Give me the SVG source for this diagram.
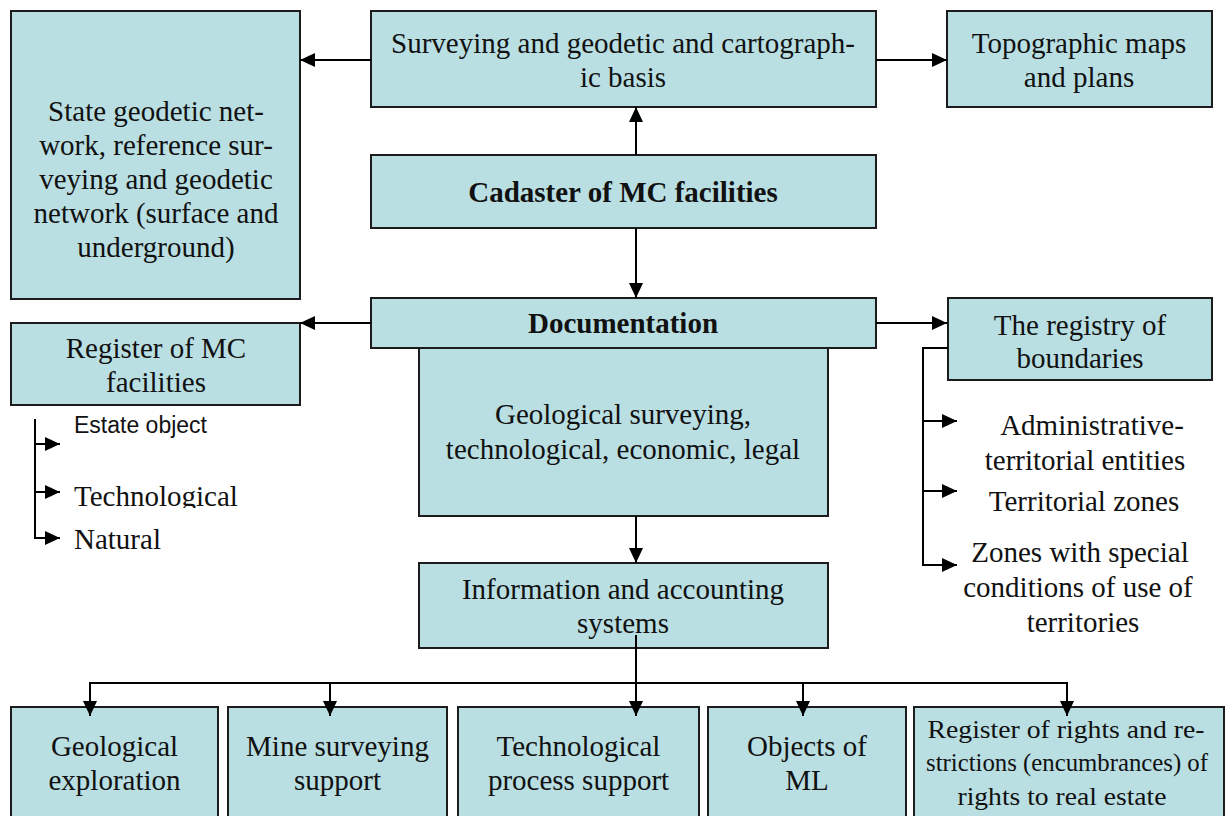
<svg xmlns="http://www.w3.org/2000/svg" width="1230" height="816" viewBox="0 0 1230 816">
<style>
.box{fill:#B9DFE3;stroke:#1c1c1c;stroke-width:2}
.t{font-family:"Liberation Serif","Times New Roman",serif;font-size:29px;fill:#111;text-anchor:middle}
.b{font-weight:bold}
.n{font-size:26px}
.l{font-family:"Liberation Serif","Times New Roman",serif;font-size:29px;fill:#111}
.s{font-family:"Liberation Sans",Arial,sans-serif;font-size:23px;fill:#111}
.c{fill:none;stroke:#000;stroke-width:2}
.a{marker-end:url(#arr)}
</style>
<defs>
<marker id="arr" markerUnits="userSpaceOnUse" markerWidth="16" markerHeight="14" refX="15" refY="7" orient="auto">
<path d="M0,0 L15,7 L0,14 z" fill="#000"/>
</marker>
<clipPath id="clipTech"><rect x="60" y="470" width="250" height="38"/></clipPath>
</defs>
<rect width="1230" height="816" fill="#fff"/>

<g id="state-network">
<rect class="box" x="11" y="11" width="289" height="288"/>
<text class="t" x="156" y="121">State geodetic net-</text>
<text class="t" x="156" y="155">work, reference sur-</text>
<text class="t" x="156" y="189">veying and geodetic</text>
<text class="t" x="156" y="223">network (surface and</text>
<text class="t" x="156" y="257">underground)</text>
</g>

<g id="surveying-basis">
<rect class="box" x="371" y="11" width="505" height="96"/>
<text class="t" x="623" y="53">Surveying and geodetic and cartograph-</text>
<text class="t" x="623" y="87">ic basis</text>
</g>

<g id="topographic-maps">
<rect class="box" x="947" y="11" width="265" height="96"/>
<text class="t" x="1079" y="53">Topographic maps</text>
<text class="t" x="1079" y="87">and plans</text>
</g>

<g id="cadaster">
<rect class="box" x="371" y="155" width="505" height="73"/>
<text class="t b" x="623" y="202">Cadaster of MC facilities</text>
</g>

<g id="documentation">
<rect class="box" x="371" y="298" width="505" height="50"/>
<text class="t b" x="623" y="333">Documentation</text>
</g>

<g id="register-mc">
<rect class="box" x="11" y="323" width="289" height="82"/>
<text class="t" x="156" y="358">Register of MC</text>
<text class="t" x="156" y="392">facilities</text>
</g>

<g id="registry-boundaries">
<rect class="box" x="948" y="298" width="264" height="82"/>
<text class="t" x="1080" y="335">The registry of</text>
<text class="t" x="1080" y="368">boundaries</text>
</g>

<g id="doc-types">
<rect class="box" x="419" y="348" width="409" height="168"/>
<text class="t" x="623" y="424">Geological surveying,</text>
<text class="t" x="623" y="459">technological, economic, legal</text>
</g>

<g id="info-systems">
<rect class="box" x="419" y="563" width="409" height="85"/>
<text class="t" x="623" y="599">Information and accounting</text>
<text class="t" x="623" y="633">systems</text>
</g>

<g id="register-items">
<text class="s" x="74" y="433">Estate object</text>
<text class="l" x="74" y="506" clip-path="url(#clipTech)">Technological</text>
<text class="l" x="74" y="549">Natural</text>
</g>

<g id="boundary-items">
<text class="t" x="1092" y="435">Administrative-</text>
<text class="t" x="1085" y="470">territorial entities</text>
<text class="t" x="1084" y="511">Territorial zones</text>
<text class="t" x="1080" y="562">Zones with special</text>
<text class="t" x="1078" y="597">conditions of use of</text>
<text class="t" x="1083" y="632">territories</text>
</g>

<g id="geological-exploration">
<rect class="box" x="11" y="707" width="207" height="125"/>
<text class="t" x="114.5" y="756">Geological</text>
<text class="t" x="114.5" y="790">exploration</text>
</g>

<g id="mine-surveying">
<rect class="box" x="228" y="707" width="219" height="125"/>
<text class="t" x="337.5" y="756">Mine surveying</text>
<text class="t" x="337.5" y="790">support</text>
</g>

<g id="tech-process">
<rect class="box" x="458" y="707" width="241" height="125"/>
<text class="t" x="578.5" y="756">Technological</text>
<text class="t" x="578.5" y="790">process support</text>
</g>

<g id="objects-ml">
<rect class="box" x="708" y="707" width="198" height="125"/>
<text class="t" x="807" y="756">Objects of</text>
<text class="t" x="807" y="790">ML</text>
</g>

<g id="rights-register">
<rect class="box" x="914" y="707" width="310" height="125"/>
<text class="t n" x="1066" y="738" textLength="277" lengthAdjust="spacingAndGlyphs">Register of rights and re-</text>
<text class="t n" x="1067" y="771" textLength="282" lengthAdjust="spacingAndGlyphs">strictions (encumbrances) of</text>
<text class="t n" x="1062" y="805" textLength="209" lengthAdjust="spacingAndGlyphs">rights to real estate</text>
</g>

<g id="connectors">
<line class="c a" x1="371" y1="60" x2="300" y2="60"/>
<line class="c a" x1="876" y1="60" x2="947" y2="60"/>
<line class="c a" x1="636" y1="155" x2="636" y2="107"/>
<line class="c a" x1="636" y1="228" x2="636" y2="298"/>
<line class="c a" x1="371" y1="323" x2="300" y2="323"/>
<line class="c a" x1="876" y1="323" x2="947" y2="323"/>
<line class="c a" x1="636" y1="516" x2="636" y2="563"/>
<line class="c a" x1="636" y1="635" x2="636" y2="716"/>
<line class="c" x1="90" y1="683" x2="1068" y2="683"/>
<line class="c a" x1="90" y1="682" x2="90" y2="716"/>
<line class="c a" x1="330" y1="683" x2="330" y2="716"/>
<line class="c a" x1="803" y1="683" x2="803" y2="716"/>
<line class="c a" x1="1067" y1="682" x2="1067" y2="716"/>
<path class="c a" d="M35,419 V538 H60"/>
<line class="c a" x1="35" y1="444" x2="60" y2="444"/>
<line class="c a" x1="35" y1="492" x2="60" y2="492"/>
<path class="c a" d="M948,348 H923 V565 H957"/>
<line class="c a" x1="923" y1="421" x2="957" y2="421"/>
<line class="c a" x1="923" y1="491" x2="957" y2="491"/>
</g>
</svg>
